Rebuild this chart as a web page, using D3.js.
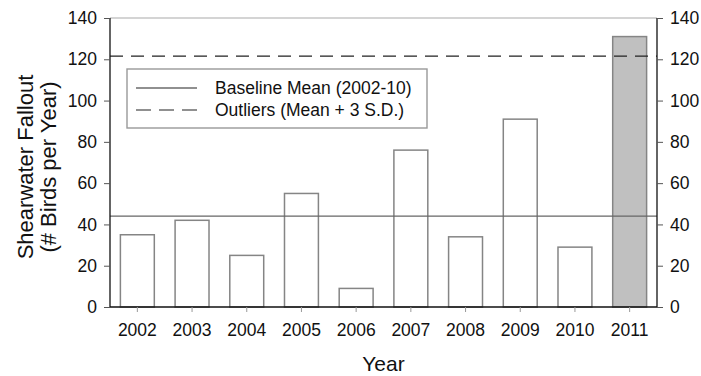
<!DOCTYPE html>
<html>
<head>
<meta charset="utf-8">
<script src="https://cdn.jsdelivr.net/npm/d3@7"></script>
<style>
  body { margin: 0; background: #fff; }
  text { font-family: "Liberation Sans", Arial, sans-serif; fill: #111; }
</style>
</head>
<body>
<div id="chart"></div>
<script>
const years = ["2002", "2003", "2004", "2005", "2006", "2007", "2008", "2009", "2010", "2011"];
const fallout = [35, 42, 25, 55, 9, 76, 34, 91, 29, 131];
const yTicks = [0, 20, 40, 60, 80, 100, 120, 140];
const baselineMean = 44;
const outlierLimit = 121.5;
const legendLabels = ["Baseline Mean (2002-10)", "Outliers (Mean + 3 S.D.)"];

const width = 701, height = 376;
const margin = {top: 18, right: 44, bottom: 69, left: 110};
const innerW = width - margin.left - margin.right;
const innerH = height - margin.top - margin.bottom;

const svg = d3.select("#chart").append("svg")
    .attr("width", width)
    .attr("height", height);

const g = svg.append("g")
    .attr("transform", `translate(${margin.left},${margin.top})`);

const x = d3.scaleBand()
    .domain(years)
    .range([0, innerW])
    .paddingInner(0.38)
    .paddingOuter(0.19);

const y = d3.scaleLinear()
    .domain([0, 140])
    .range([innerH, 0]);

// top frame line
g.append("line")
    .attr("x1", 0).attr("x2", innerW)
    .attr("y1", 0).attr("y2", 0)
    .attr("stroke", "#aaa")
    .attr("stroke-width", 1.2);

// bars
g.selectAll("rect.bar")
    .data(years)
    .enter()
    .append("rect")
    .attr("class", "bar")
    .attr("x", d => x(d))
    .attr("y", (d, i) => y(fallout[i]))
    .attr("width", x.bandwidth())
    .attr("height", (d, i) => innerH - y(fallout[i]))
    .attr("fill", d => d === "2011" ? "#c0c0c0" : "#fff")
    .attr("stroke", "#858585")
    .attr("stroke-width", 1.5);

// reference lines
g.append("line")
    .attr("x1", 0).attr("x2", innerW)
    .attr("y1", y(baselineMean)).attr("y2", y(baselineMean))
    .attr("stroke", "#666")
    .attr("stroke-width", 1.2);

g.append("line")
    .attr("x1", 0).attr("x2", innerW)
    .attr("y1", y(outlierLimit)).attr("y2", y(outlierLimit))
    .attr("stroke", "#222")
    .attr("stroke-width", 1.2)
    .attr("stroke-dasharray", "13,8");

// axes
const yLeft = g.append("g")
    .call(d3.axisLeft(y).tickValues(yTicks).tickSize(6).tickPadding(7));
const yRight = g.append("g")
    .attr("transform", `translate(${innerW},0)`)
    .call(d3.axisRight(y).tickValues(yTicks).tickSize(6).tickPadding(7));
const xAxis = g.append("g")
    .attr("transform", `translate(0,${innerH})`)
    .call(d3.axisBottom(x).tickSize(5).tickPadding(12));

[yLeft, yRight, xAxis].forEach(a => {
    a.select(".domain").attr("stroke", "#111").attr("stroke-width", 1.3);
    a.selectAll(".tick text").style("font-size", "17.5px").attr("fill", "#111");
});
yLeft.selectAll(".tick line").attr("stroke", "#555");
yRight.selectAll(".tick line").attr("stroke", "#555");
xAxis.selectAll(".tick line").attr("stroke", "#999");
// no outer tick caps
yLeft.select(".domain").attr("d", `M0,${innerH}V0`);
yRight.select(".domain").attr("d", `M0,${innerH}V0`);
xAxis.select(".domain").attr("d", `M0,0H${innerW}`);

// legend
const legend = g.append("g")
    .attr("transform", "translate(17,51)");
legend.append("rect")
    .attr("width", 300)
    .attr("height", 59)
    .attr("fill", "#fff")
    .attr("stroke", "#999")
    .attr("stroke-width", 1.4);
legendLabels.forEach((lab, i) => {
    const ly = 19 + i * 22;
    legend.append("line")
        .attr("x1", 9).attr("x2", 70)
        .attr("y1", ly).attr("y2", ly)
        .attr("stroke", "#222")
        .attr("stroke-width", 1.1)
        .attr("stroke-dasharray", i === 1 ? "15,8" : null);
    legend.append("text")
        .attr("x", 88)
        .attr("y", ly)
        .attr("dy", "0.35em")
        .style("font-size", "17.5px")
        .text(lab);
});

// axis titles
svg.append("text")
    .attr("x", margin.left + innerW / 2)
    .attr("y", 371)
    .attr("text-anchor", "middle")
    .style("font-size", "21px")
    .text("Year");

const yTitle = svg.append("text")
    .attr("transform", `translate(33,167) rotate(-90)`)
    .attr("text-anchor", "middle")
    .style("font-size", "22px");
yTitle.append("tspan").attr("x", 0).attr("dy", 0).text("Shearwater Fallout");
yTitle.append("tspan").attr("x", 0).attr("dy", 23).text("(# Birds per Year)");
</script>
</body>
</html>
